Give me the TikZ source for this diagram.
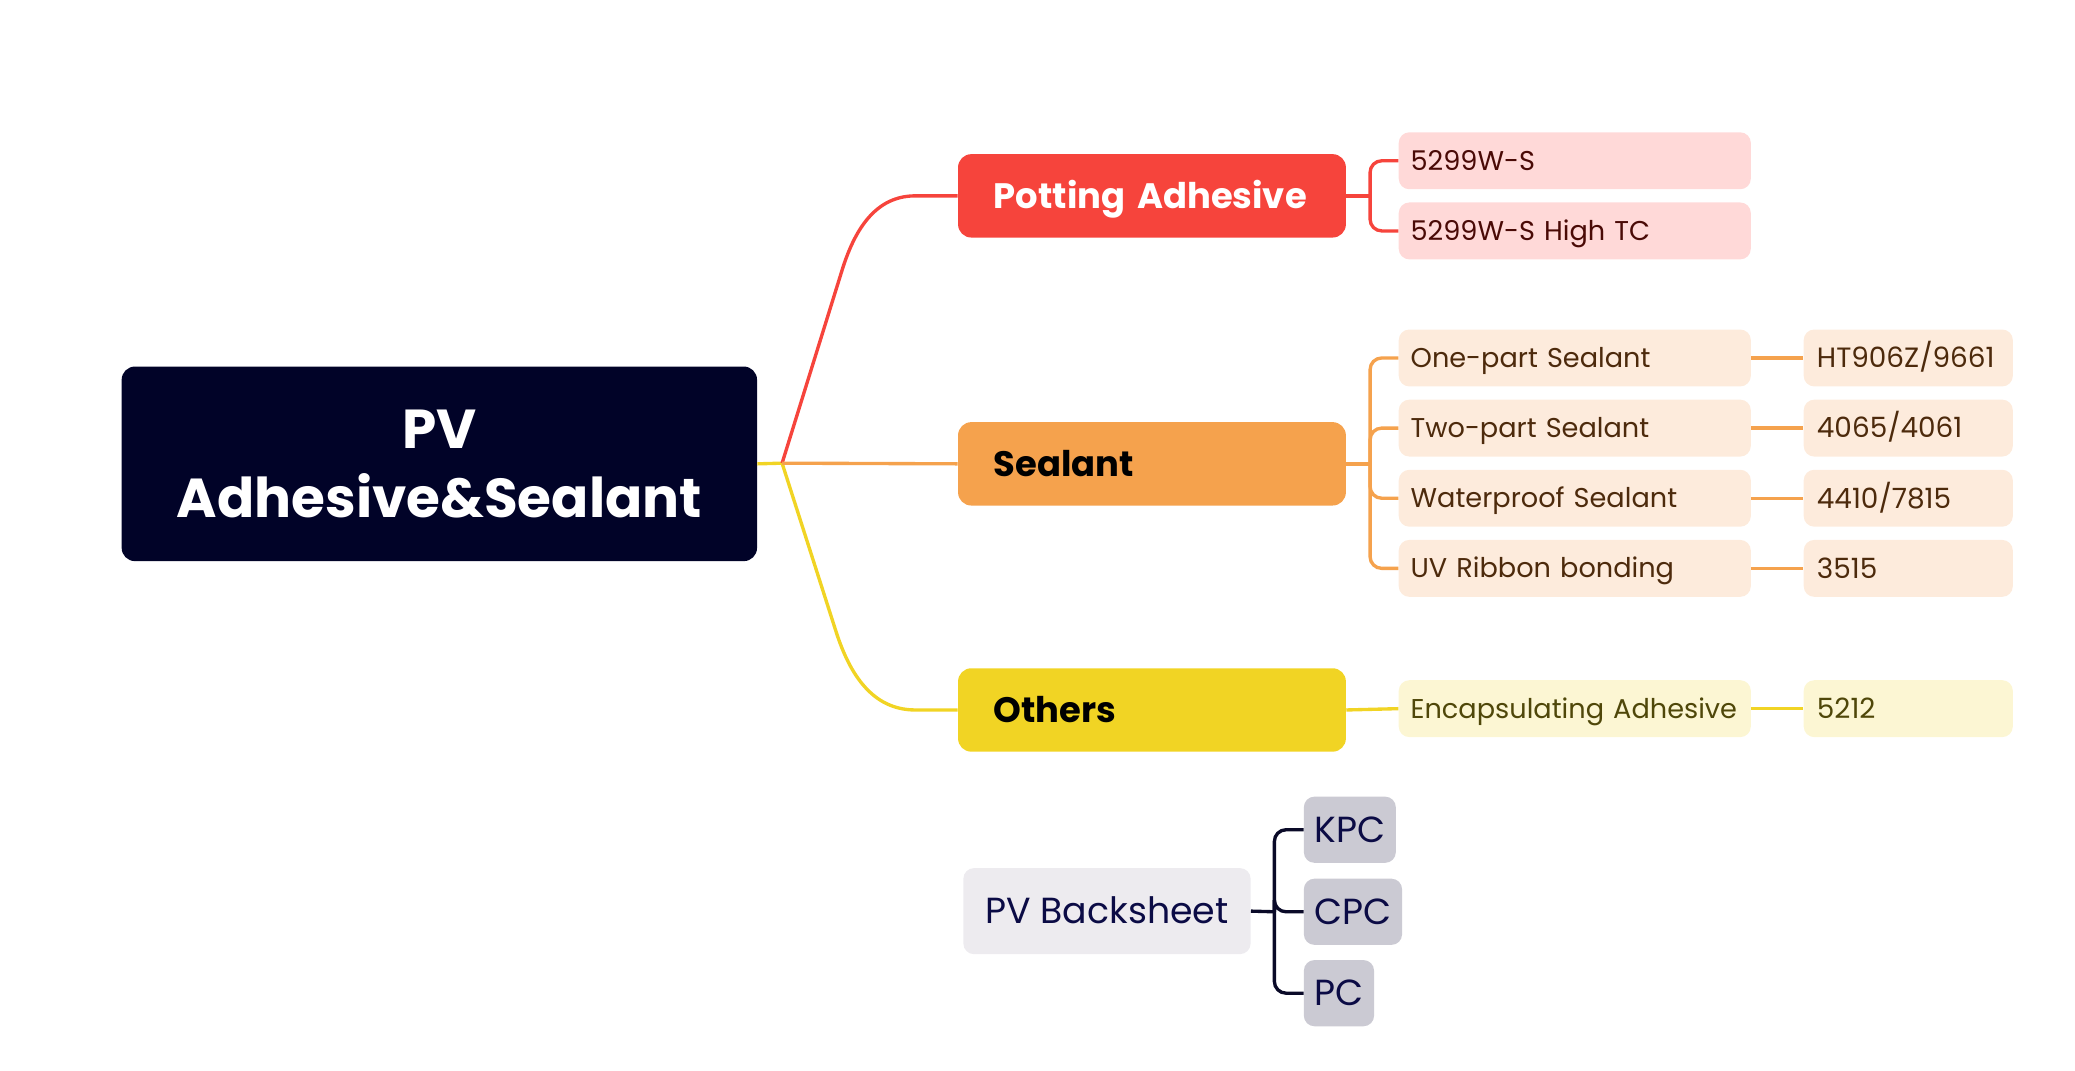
\documentclass[tikz,border=0pt]{standalone}
\usepackage{fontspec}
\setmainfont{Poppins}
\usetikzlibrary{calc}

\definecolor{rootnavy}{RGB}{1,3,40}
\definecolor{potred}{RGB}{246,68,60}
\definecolor{potlight}{RGB}{255,217,216}
\definecolor{pottext}{RGB}{74,10,6}
\definecolor{sealorange}{RGB}{245,162,77}
\definecolor{seallight}{RGB}{253,235,220}
\definecolor{sealtext}{RGB}{77,42,12}
\definecolor{othyellow}{RGB}{241,212,36}
\definecolor{othlight}{RGB}{252,246,211}
\definecolor{othtext}{RGB}{79,71,9}
\definecolor{bsgray}{RGB}{237,235,239}
\definecolor{bschild}{RGB}{203,202,211}
\definecolor{bstext}{RGB}{11,11,69}
\definecolor{bsline}{RGB}{10,10,40}

\tikzset{
  nobreak/.style={execute at begin node={\leavevmode\hbox\bgroup}, execute at end node={\egroup}},
  rootbox/.style={fill=rootnavy, text=white, rounded corners=0.25cm, minimum width=12cm,
    minimum height=3.675cm, align=center, font=\fontsize{29.5}{37}\selectfont\bfseries},
  topicbox/.style={rounded corners=0.25cm, minimum width=7.325cm, minimum height=1.575cm,
    text width=5.975cm, inner xsep=0.675cm, inner ysep=0pt, align=left, nobreak,
    text height=13.3pt, text depth=0pt, font=\fontsize{19}{21}\selectfont\bfseries},
  subbox/.style={rounded corners=0.2cm, minimum width=6.65cm, minimum height=1.075cm,
    text width=6.2cm, inner xsep=0.225cm, inner ysep=0pt, align=left, nobreak,
    text height=10.2pt, text depth=0pt, font=\fontsize{14.6}{16}\selectfont},
  leafbox/.style={rounded corners=0.2cm, minimum width=3.95cm, minimum height=1.075cm,
    text width=3.45cm, inner xsep=0.25cm, inner ysep=0pt, align=left, nobreak,
    text height=10.5pt, text depth=0pt, font=\fontsize{15}{17}\selectfont},
  potline/.style={draw=potred, line width=1.8pt},
  sealline/.style={draw=sealorange, line width=1.8pt},
  othline/.style={draw=othyellow, line width=1.8pt},
  bsnode/.style={rounded corners=0.2cm, inner xsep=0.2cm, inner ysep=0pt, minimum height=1.25cm,
    text height=13.6pt, text depth=0pt, text=bstext, font=\fontsize{19.5}{21}\selectfont}
}

\begin{document}
\begin{tikzpicture}[x=0.025cm,y=-0.025cm]
\useasboundingbox (0,0) rectangle (1568,809);

% root and main topics
\node[rootbox] (root) at (332,350.5) {PV\\Adhesive\&Sealant};
\coordinate (hub) at (591,350);
\node[topicbox, fill=potred, text=white] (pot) at (870.5,148) {Potting Adhesive};
\node[topicbox, fill=sealorange, text=black] (seal) at (870.5,350.5) {Sealant};
\node[topicbox, fill=othyellow, text=black] (oth) at (870.5,536.5) {Others};

\draw[othline] (root.east) -- (hub);
\draw[potline] (hub) -- ++(46,-148) to[out=72,in=180] ($(pot.west)+(-32,0)$) -- (pot.west);
\draw[othline] (hub) -- ++(41,128) to[out=-72,in=180] ($(oth.west)+(-32,0)$) -- (oth.west);
\draw[sealline] (hub) -- (seal.west);

% potting adhesive
\node[subbox, fill=potlight, text=pottext] (pa) at (1190,121.5) {5299W-S};
\node[subbox, fill=potlight, text=pottext] (pb) at (1190,174.5) {5299W-S High TC};
\coordinate (potfork) at ($(pot.east)+(18,0)$);
\draw[potline] (pot.east) -- (potfork);
\foreach \n in {pa,pb}
  \draw[potline, rounded corners=0.22cm] (potfork) |- (\n.west);

% sealant
\node[subbox, fill=seallight, text=sealtext] (sa) at (1190,270.5) {One-part Sealant};
\node[subbox, fill=seallight, text=sealtext] (sb) at (1190,323.5) {Two-part Sealant};
\node[subbox, fill=seallight, text=sealtext] (sc) at (1190,376.5) {Waterproof Sealant};
\node[subbox, fill=seallight, text=sealtext] (sd) at (1190,429.5) {UV Ribbon bonding};
\node[leafbox, fill=seallight, text=sealtext] (la) at (1442,270.5) {HT906Z/9661};
\node[leafbox, fill=seallight, text=sealtext] (lb) at (1442,323.5) {4065/4061};
\node[leafbox, fill=seallight, text=sealtext] (lc) at (1442,376.5) {4410/7815};
\node[leafbox, fill=seallight, text=sealtext] (ld) at (1442,429.5) {3515};
\coordinate (sealfork) at ($(seal.east)+(18,0)$);
\draw[sealline] (seal.east) -- (sealfork);
\foreach \n/\m in {sa/la,sb/lb,sc/lc,sd/ld}{
  \draw[sealline, rounded corners=0.22cm] (sealfork) |- (\n.west);
  \draw[sealline] (\n.east) -- (\m.west);
}

% others
\node[subbox, fill=othlight, text=othtext] (enc) at (1190,535.5) {Encapsulating Adhesive};
\node[leafbox, fill=othlight, text=othtext] (le) at (1442,535.5) {5212};
\draw[othline] (oth.east) -- (enc.west);
\draw[othline] (enc.east) -- (le.west);

% floating topic
\node[bsnode, fill=bsgray, minimum width=5.425cm, minimum height=1.625cm] (bs) at (836.5,688.5) {PV Backsheet};
\node[bsnode, fill=bschild, anchor=west] (kpc) at (985,627) {KPC};
\node[bsnode, fill=bschild, anchor=west] (cpc) at (985,689) {CPC};
\node[bsnode, fill=bschild, anchor=west] (pc) at (985,750.5) {PC};
\coordinate (bsfork) at (963,689);
\draw[draw=bsline, line width=1.8pt] (bs.east) -- (bsfork);
\foreach \n in {kpc,cpc,pc}
  \draw[draw=bsline, line width=1.8pt, rounded corners=0.22cm] (bsfork) |- (\n.west);
\end{tikzpicture}
\end{document}
